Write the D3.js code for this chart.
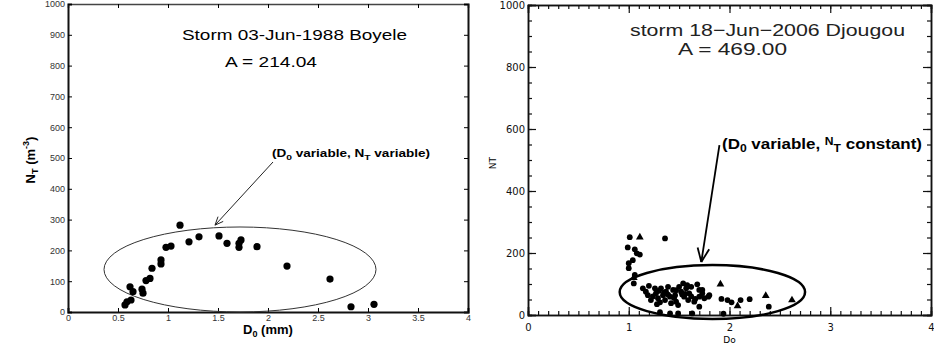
<!DOCTYPE html>
<html>
<head>
<meta charset="utf-8">
<script src="https://cdn.jsdelivr.net/npm/d3@7"></script>
<style>
  body { margin: 0; background: #fff; }
  svg { display: block; }
</style>
</head>
<body>
<div id="chart"></div>
<script>
// Left panel: storm 03-Jun-1988 Boyele
const boyeleD0 = [0.57, 0.59, 0.63, 0.62, 0.65, 0.74, 0.75, 0.78, 0.82, 0.84, 0.93, 0.93, 0.98, 1.03,
  1.12, 1.21, 1.31, 1.51, 1.59, 1.71, 1.73, 1.71, 1.89, 2.19, 2.62, 2.83, 3.06];
const boyeleNT = [23, 33, 39, 82, 66, 74, 61, 102, 109, 142, 169, 156, 210, 214,
  282, 228, 244, 247, 223, 223, 234, 210, 212, 149, 107, 17, 25];

// Right panel: storm 18-Jun-2006 Djougou (circles)
const djougouD0 = [1.01, 1.36, 0.99, 1.06, 1.08, 1.11, 1.04, 1.00, 1.00, 1.06, 1.05,
  1.14, 1.20, 1.17, 1.19, 1.22, 1.26, 1.27, 1.29, 1.31, 1.32, 1.34, 1.36, 1.37, 1.39,
  1.41, 1.42, 1.44, 1.46, 1.47, 1.49, 1.50, 1.52, 1.54, 1.55, 1.57, 1.59, 1.60, 1.62,
  1.65, 1.68, 1.70, 1.70, 1.73, 1.70, 1.79, 1.80, 1.31, 1.41, 1.49, 1.63, 1.73, 1.75,
  1.92, 1.98, 2.02, 2.11, 2.20, 2.39, 1.94, 1.24, 1.30, 1.45, 1.53, 1.58, 1.66, 1.35,
  1.47, 1.56, 1.62, 1.28, 1.39];
const djougouNT = [251, 247, 218, 212, 199, 195, 177, 167, 151, 129, 102,
  86, 94, 75, 64, 48, 86, 70, 54, 41, 86, 64, 48, 75, 91,
  59, 38, 81, 64, 43, 32, 91, 75, 102, 59, 86, 48, 70, 91,
  43, 99, 81, 59, 70, 27, 59, 64, 9, 5, 5, 5, 81, 54,
  52, 48, 41, 48, 51, 27, 4, 60, 78, 55, 66, 96, 52, 72,
  80, 68, 60, 35, 66];
// Right panel: triangle markers
const djougouTriD0 = [1.11, 1.91, 2.08, 2.36, 2.62, 1.05];
const djougouTriNT = [251, 99, 29, 62, 48, 120];

const xTicksL = [0, 0.5, 1, 1.5, 2, 2.5, 3, 3.5, 4];
const yTicksL = d3.range(0, 1001, 100);
const xTicksR = [0, 1, 2, 3, 4];
const yTicksR = [0, 200, 400, 600, 800, 1000];

const width = 934, height = 346;
const svg = d3.select("#chart").append("svg")
  .attr("width", width)
  .attr("height", height)
  .style("font-family", "'Liberation Sans', Arial, sans-serif");

svg.append("rect").attr("width", width).attr("height", height).attr("fill", "#fff");

// ---------- left panel ----------
const xL = d3.scaleLinear().domain([0, 4]).range([68, 468]);
const yL = d3.scaleLinear().domain([0, 1000]).range([312, 4]);

const left = svg.append("g");

// box (top/right) with inward ticks
left.append("g")
  .attr("transform", `translate(0, ${yL(1000)})`)
  .call(d3.axisTop(xL).tickValues(xTicksL).tickSize(-4).tickFormat(""))
  .call(g => g.select(".domain").attr("stroke", "#444").attr("stroke-width", 1.5));
left.append("g")
  .attr("transform", `translate(${xL(4)}, 0)`)
  .call(d3.axisRight(yL).tickValues(yTicksL).tickSize(-4).tickFormat(""))
  .call(g => g.select(".domain").attr("stroke", "#111").attr("stroke-width", 2));

left.append("g")
  .attr("transform", `translate(0, ${yL(0)})`)
  .call(d3.axisBottom(xL).tickValues(xTicksL).tickSize(-4).tickPadding(3).tickFormat(d3.format("")))
  .call(g => g.select(".domain").attr("stroke", "#111").attr("stroke-width", 2))
  .call(g => g.selectAll("text").attr("font-size", 9).attr("fill", "#333")
    .attr("font-family", "'Liberation Sans', Arial, sans-serif"));

left.append("g")
  .attr("transform", `translate(${xL(0)}, 0)`)
  .call(d3.axisLeft(yL).tickValues(yTicksL).tickSize(-4).tickPadding(3).tickFormat(d3.format("d")))
  .call(g => g.select(".domain").attr("stroke", "#111").attr("stroke-width", 2))
  .call(g => g.selectAll("text").attr("font-size", 9).attr("fill", "#333")
    .attr("font-family", "'Liberation Sans', Arial, sans-serif"));

// axis labels
const xLabL = left.append("text")
  .attr("x", xL(2)).attr("y", 334)
  .attr("text-anchor", "middle")
  .attr("font-size", 13).attr("font-weight", "bold");
xLabL.append("tspan").text("D");
xLabL.append("tspan").attr("font-size", 9).attr("dy", 3).text("0");
xLabL.append("tspan").attr("dy", -3).text(" (mm)");

const yLabL = left.append("text")
  .attr("transform", `translate(35, ${yL(500) + 2}) rotate(-90)`)
  .attr("text-anchor", "middle")
  .attr("font-size", 13).attr("font-weight", "bold");
yLabL.append("tspan").text("N");
yLabL.append("tspan").attr("font-size", 9).attr("dy", 3).text("T");
yLabL.append("tspan").attr("dy", -3).text(" (m");
yLabL.append("tspan").attr("font-size", 9).attr("dy", -6).text("-3");
yLabL.append("tspan").attr("dy", 6).text(")");

// titles
left.append("text")
  .attr("x", 182).attr("y", 40)
  .attr("font-size", 15.5)
  .attr("textLength", 225).attr("lengthAdjust", "spacingAndGlyphs")
  .text("Storm 03-Jun-1988 Boyele");
left.append("text")
  .attr("x", 225).attr("y", 67)
  .attr("font-size", 15.5)
  .attr("textLength", 92).attr("lengthAdjust", "spacingAndGlyphs")
  .text("A = 214.04");

// ellipse
left.append("ellipse")
  .attr("cx", xL(1.72)).attr("cy", yL(138))
  .attr("rx", xL(1.36) - xL(0)).attr("ry", yL(0) - yL(138))
  .attr("fill", "none").attr("stroke", "#333").attr("stroke-width", 1);

// points
left.append("g").selectAll("circle")
  .data(boyeleD0.map((d, i) => [d, boyeleNT[i]]))
  .join("circle")
  .attr("cx", d => xL(d[0]))
  .attr("cy", d => yL(d[1]))
  .attr("r", 3.6)
  .attr("fill", "#000");

// annotation + arrow
const annL = left.append("text")
  .attr("x", xL(2.04)).attr("y", yL(503))
  .attr("font-size", 10.5).attr("font-weight", "bold")
  .attr("textLength", 158).attr("lengthAdjust", "spacingAndGlyphs");
annL.append("tspan").text("(D");
annL.append("tspan").attr("font-size", 8).attr("dy", 3).text("0");
annL.append("tspan").attr("dy", -3).text(" variable, N");
annL.append("tspan").attr("font-size", 8).attr("dy", 3).text("T");
annL.append("tspan").attr("dy", -3).text(" variable)");

function arrow(g, x1, y1, x2, y2, len, sw, col) {
  g.append("line")
    .attr("x1", x1).attr("y1", y1).attr("x2", x2).attr("y2", y2)
    .attr("stroke", col).attr("stroke-width", sw);
  const a = Math.atan2(y2 - y1, x2 - x1);
  [0.4, -0.4].forEach(o => {
    g.append("line")
      .attr("x1", x2).attr("y1", y2)
      .attr("x2", x2 - len * Math.cos(a + o)).attr("y2", y2 - len * Math.sin(a + o))
      .attr("stroke", col).attr("stroke-width", sw);
  });
}
arrow(left, xL(2.05), yL(487), xL(1.47), yL(282), 9, 1, "#222");

// ---------- right panel ----------
const xR = d3.scaleLinear().domain([0, 4]).range([528, 931]);
const yR = d3.scaleLinear().domain([0, 1000]).range([315, 5]);
const right = svg.append("g");

const minorX = d3.range(0, 4.001, 0.1).map(v => +v.toFixed(1));
const minorY = d3.range(0, 1001, 50);

function frameAxis(axis, tr, vals, size) {
  right.append("g")
    .attr("transform", tr)
    .call(axis.tickValues(vals).tickSize(size).tickFormat(""))
    .call(g => g.select(".domain").attr("stroke", "#111").attr("stroke-width", 1.5))
    .call(g => g.selectAll(".tick line").attr("stroke", "#111").attr("stroke-width", 1.2));
}
frameAxis(d3.axisTop(xR), `translate(0, ${yR(1000)})`, minorX, -4);
frameAxis(d3.axisTop(xR), `translate(0, ${yR(1000)})`, xTicksR, -8);
frameAxis(d3.axisRight(yR), `translate(${xR(4)}, 0)`, minorY, -4);
frameAxis(d3.axisRight(yR), `translate(${xR(4)}, 0)`, yTicksR, -8);
frameAxis(d3.axisBottom(xR), `translate(0, ${yR(0)})`, minorX, -4);
frameAxis(d3.axisLeft(yR), `translate(${xR(0)}, 0)`, minorY, -4);

right.append("g")
  .attr("transform", `translate(0, ${yR(0)})`)
  .call(d3.axisBottom(xR).tickValues(xTicksR).tickSize(-8).tickPadding(9).tickFormat(d3.format("d")))
  .call(g => g.select(".domain").attr("stroke", "#111").attr("stroke-width", 1.5))
  .call(g => g.selectAll(".tick line").attr("stroke", "#111").attr("stroke-width", 1.2))
  .call(g => g.selectAll("text").attr("font-size", 10).attr("fill", "#111")
    .attr("font-family", "'DejaVu Sans', sans-serif"));

right.append("g")
  .attr("transform", `translate(${xR(0)}, 0)`)
  .call(d3.axisLeft(yR).tickValues(yTicksR).tickSize(-8).tickPadding(3).tickFormat(d3.format("d")))
  .call(g => g.select(".domain").attr("stroke", "#111").attr("stroke-width", 1.5))
  .call(g => g.selectAll(".tick line").attr("stroke", "#111").attr("stroke-width", 1.2))
  .call(g => g.selectAll("text").attr("font-size", 10).attr("fill", "#111")
    .attr("font-family", "'DejaVu Sans', sans-serif"));

right.append("text")
  .attr("x", xR(2)).attr("y", 343)
  .attr("text-anchor", "middle")
  .attr("font-size", 9).attr("font-family", "'DejaVu Sans', sans-serif")
  .text("Do");
right.append("text")
  .attr("transform", `translate(496, ${yR(490)}) rotate(-90)`)
  .attr("text-anchor", "middle")
  .attr("font-size", 9).attr("font-family", "'DejaVu Sans', sans-serif")
  .text("NT");

right.append("text")
  .attr("x", 630).attr("y", 36)
  .attr("font-size", 17)
  .attr("fill", "#222")
  .attr("textLength", 275).attr("lengthAdjust", "spacingAndGlyphs")
  .text("storm 18\u2212Jun\u22122006 Djougou");
right.append("text")
  .attr("x", 678).attr("y", 55)
  .attr("font-size", 17)
  .attr("fill", "#222")
  .attr("textLength", 109).attr("lengthAdjust", "spacingAndGlyphs")
  .text("A = 469.00");

right.append("ellipse")
  .attr("cx", xR(1.83)).attr("cy", yR(74))
  .attr("rx", xR(0.92) - xR(0)).attr("ry", yR(0) - yR(87))
  .attr("fill", "none").attr("stroke", "#000").attr("stroke-width", 2.5);

right.append("g").selectAll("circle")
  .data(djougouD0.map((d, i) => [d, djougouNT[i]]))
  .join("circle")
  .attr("cx", d => xR(d[0]))
  .attr("cy", d => yR(d[1]))
  .attr("r", 2.9)
  .attr("fill", "#000");

right.append("g").selectAll("path")
  .data(djougouTriD0.map((d, i) => [d, djougouTriNT[i]]))
  .join("path")
  .attr("transform", d => `translate(${xR(d[0])}, ${yR(d[1])})`)
  .attr("d", d3.symbol(d3.symbolTriangle, 26))
  .attr("fill", "#000");

const annR = right.append("text")
  .attr("x", 722).attr("y", 149)
  .attr("font-size", 14).attr("font-weight", "bold")
  .attr("textLength", 200).attr("lengthAdjust", "spacingAndGlyphs");
annR.append("tspan").text("(D");
annR.append("tspan").attr("font-size", 10).attr("dy", 3).text("0");
annR.append("tspan").attr("dy", -3).text(" variable, ");
annR.append("tspan").attr("font-size", 10).attr("dy", -4).text("N");
annR.append("tspan").attr("font-size", 10).attr("dy", 7).text("T");
annR.append("tspan").attr("dy", -3).text(" constant)");

arrow(right, xR(1.90), yR(548), xR(1.72), yR(171), 15, 1.8, "#000");
</script>
</body>
</html>
